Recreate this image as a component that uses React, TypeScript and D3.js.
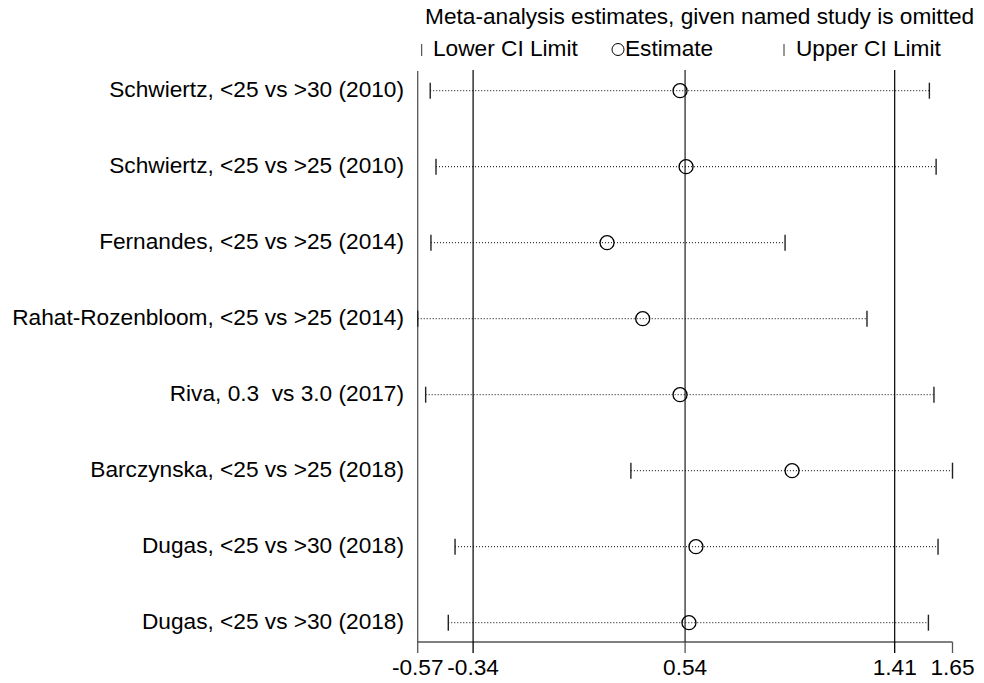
import React from "react";
import * as d3 from "d3";

const studies = [
  "Schwiertz, <25 vs >30 (2010)",
  "Schwiertz, <25 vs >25 (2010)",
  "Fernandes, <25 vs >25 (2014)",
  "Rahat-Rozenbloom, <25 vs >25 (2014)",
  "Riva, 0.3  vs 3.0 (2017)",
  "Barczynska, <25 vs >25 (2018)",
  "Dugas, <25 vs >30 (2018)",
  "Dugas, <25 vs >30 (2018)",
];
const lowerCI = [-0.518, -0.494, -0.515, -0.57, -0.537, 0.315, -0.415, -0.443];
const estimate = [0.519, 0.544, 0.216, 0.364, 0.519, 0.984, 0.585, 0.556];
const upperCI = [1.554, 1.582, 0.955, 1.295, 1.573, 1.65, 1.59, 1.55];
const tickValues = [-0.57, -0.34, 0.54, 1.41, 1.65];
const tickLabels = ["-0.57", "-0.34", "0.54", "1.41", "1.65"];
const refLines = [-0.34, 0.54, 1.41];
const title = "Meta-analysis estimates, given named study is omitted";

const W = 984;
const H = 683;
const FONT = "'Liberation Sans', Arial, sans-serif";
const FS = 21.5;
const SX = 1.055;

function T({
  x,
  y,
  anchor = "start",
  children,
}: {
  x: number;
  y: number;
  anchor?: "start" | "middle" | "end";
  children: React.ReactNode;
}) {
  return (
    <g transform={`translate(${x},${y}) scale(${SX},1)`}>
      <text
        x={0}
        y={0}
        fontSize={FS}
        textAnchor={anchor}
        fill="#000"
        style={{ whiteSpace: "pre" }}
        xmlSpace="preserve"
      >
        {children}
      </text>
    </g>
  );
}

export default function App() {
  const x = d3.scaleLinear().domain([-0.57, 1.65]).range([417.7, 952.5]);
  const y = d3
    .scalePoint<number>()
    .domain(d3.range(studies.length))
    .range([90.7, 622.7]);
  const axisY = 642;
  const topY = 71;

  return (
    <svg
      width={W}
      height={H}
      style={{ position: "absolute", left: 0, top: 0, background: "#fff" }}
      fontFamily={FONT}
    >
      <rect x={0} y={0} width={W} height={H} fill="#fff" />
      {/* title */}
      <T x={425} y={24}>
        {title}
      </T>
      {/* legend */}
      <line x1={421.7} x2={421.7} y1={44} y2={56} stroke="#333" strokeWidth={1} />
      <T x={433} y={56}>
        Lower CI Limit
      </T>
      <circle cx={618} cy={49.5} r={6} fill="none" stroke="#000" strokeWidth={1} />
      <T x={625} y={56}>
        Estimate
      </T>
      <line x1={784} x2={784} y1={44} y2={56} stroke="#333" strokeWidth={1} />
      <T x={796} y={56}>
        Upper CI Limit
      </T>

      {/* left boundary */}
      <line
        x1={x(-0.57)}
        x2={x(-0.57)}
        y1={topY}
        y2={axisY}
        stroke="#555"
        strokeWidth={1.3}
      />
      {/* reference lines */}
      {refLines.map((v, i) => (
        <line
          key={"ref" + i}
          x1={x(v)}
          x2={x(v)}
          y1={topY - 1}
          y2={axisY}
          stroke={v === 0.54 ? "#555" : "#000"}
          strokeWidth={v === 0.54 ? 1.6 : 1.2}
        />
      ))}

      {/* rows */}
      {studies.map((s, i) => {
        const yy = y(i) as number;
        return (
          <g key={"row" + i}>
            <T x={404} y={yy + 6} anchor="end">
              {s}
            </T>
            <line
              x1={x(lowerCI[i])}
              x2={x(upperCI[i])}
              y1={yy}
              y2={yy}
              stroke="#000"
              strokeWidth={1}
              strokeDasharray="1 2"
            />
            <line
              x1={x(lowerCI[i])}
              x2={x(lowerCI[i])}
              y1={yy - 8}
              y2={yy + 8}
              stroke="#222"
              strokeWidth={1.4}
            />
            <line
              x1={x(upperCI[i])}
              x2={x(upperCI[i])}
              y1={yy - 8}
              y2={yy + 8}
              stroke="#222"
              strokeWidth={1.4}
            />
            <circle
              cx={x(estimate[i])}
              cy={yy}
              r={7}
              fill="none"
              stroke="#000"
              strokeWidth={1.3}
            />
          </g>
        );
      })}

      {/* axis */}
      <line x1={x(-0.57)} x2={x(1.65)} y1={axisY} y2={axisY} stroke="#000" strokeWidth={1.2} />
      {tickValues.map((v, i) => (
        <g key={"t" + i}>
          <line
            x1={x(v)}
            x2={x(v)}
            y1={axisY}
            y2={axisY + 11}
            stroke={v === 0.54 || v === -0.57 || v === 1.65 ? "#555" : "#000"}
            strokeWidth={1.3}
          />
          <T x={x(v)} y={675} anchor="middle">
            {tickLabels[i]}
          </T>
        </g>
      ))}
    </svg>
  );
}
